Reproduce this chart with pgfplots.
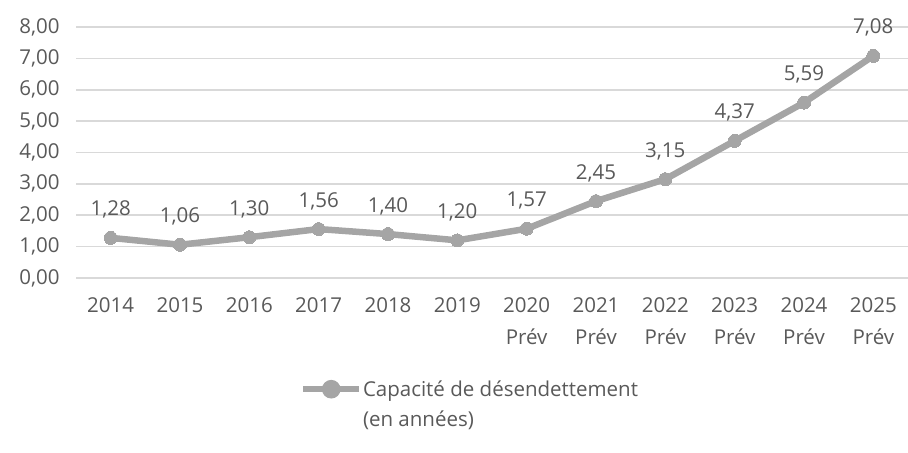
\documentclass[border=0pt]{standalone}
\usepackage{pgfplots}
\pgfplotsset{compat=1.18}
\usepackage{fontspec}
\setmainfont{Open Sans}
\definecolor{txt}{HTML}{595959}
\definecolor{serie}{HTML}{A5A5A5}
\definecolor{grille}{HTML}{D9D9D9}
\newcommand\fs{\fontsize{20.5bp}{32bp}\selectfont}
\begin{document}
\begin{tikzpicture}
\useasboundingbox (0,0) rectangle (908bp,453bp);
\begin{axis}[
    at={(76bp,175bp)}, anchor=south west,
    scale only axis,
    width=832bp, height=251bp,
    xmin=-0.5, xmax=11.5,
    ymin=0, ymax=8,
    ytick={0,1,...,8},
    xtick={0,...,11},
    xticklabels={2014,2015,2016,2017,2018,2019,2020\\Prév,2021\\Prév,2022\\Prév,2023\\Prév,2024\\Prév,2025\\Prév},
    xticklabel style={align=center, anchor=north, yshift=-16bp,
        font=\fs, text=txt},
    yticklabel style={font=\fs, text=txt, xshift=-13bp},
    /pgf/number format/.cd, fixed, fixed zerofill, precision=2, use comma, assume math mode=true,
    /pgfplots/.cd,
    axis line style={draw=none},
    major tick length=0pt,
    ymajorgrids=true,
    grid style={grille, line width=1.6bp},
    clip=false,
    legend style={at={(0.269,-0.40)}, anchor=north west, draw=none, fill=none,
        inner sep=0pt, column sep=0pt, cells={align=left, anchor=west},
        nodes={inner xsep=0.5bp},
        font={\fontsize{20.5bp}{30bp}\selectfont}, text=txt},
    legend image code/.code={
        \draw[serie, line width=6.5bp] (0bp,15bp) -- (56bp,15bp);
        \fill[serie] (28bp,15bp) circle (6bp);
    },
]
\addplot[serie, line width=6.5bp, mark=*, mark size=6.5bp,
    mark options={fill=serie, draw=serie, line width=0pt},
    point meta=explicit symbolic,
    nodes near coords,
    every node near coord/.append style={anchor=base, yshift=22bp,
        font=\fs, text=txt},
] coordinates {
    (0,1.28) [1,28]
    (1,1.06) [1,06]
    (2,1.30) [1,30]
    (3,1.56) [1,56]
    (4,1.40) [1,40]
    (5,1.20) [1,20]
    (6,1.57) [1,57]
    (7,2.45) [2,45]
    (8,3.15) [3,15]
    (9,4.37) [4,37]
    (10,5.59) [5,59]
    (11,7.08) [7,08]
};
\addlegendentry{Capacité de désendettement\\(en années)}
\end{axis}
\end{tikzpicture}
\end{document}
